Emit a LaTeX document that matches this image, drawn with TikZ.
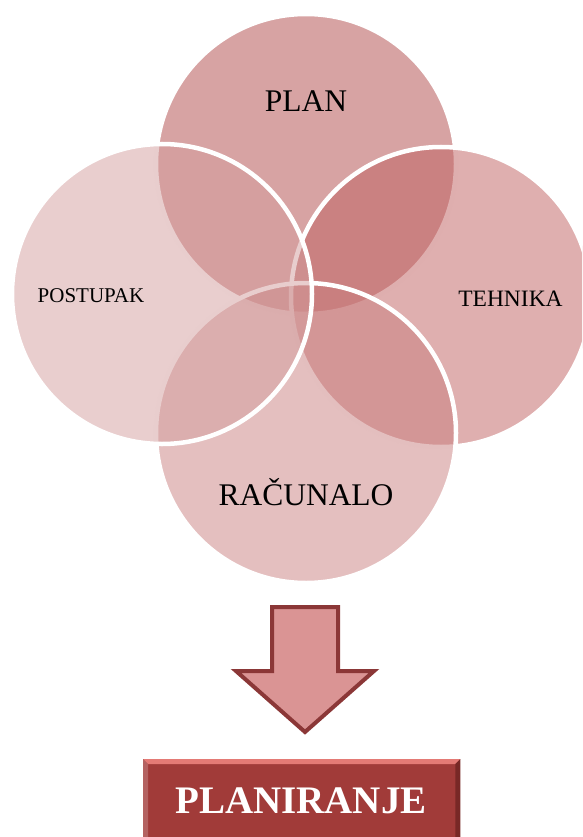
\documentclass[tikz,border=0pt]{standalone}
\usepackage{fontspec}
\setmainfont{Liberation Serif}
\definecolor{cPlan}{RGB}{175,71,71}
\definecolor{cTeh}{RGB}{191,95,95}
\definecolor{cRac}{RGB}{201,127,127}
\definecolor{cPos}{RGB}{211,157,157}
\definecolor{arrowfill}{RGB}{218,148,148}
\definecolor{arrowline}{RGB}{139,55,55}
\definecolor{boxred}{RGB}{161,59,57}
\definecolor{boxlight}{RGB}{228,122,117}
\definecolor{boxdark}{RGB}{120,40,38}
\begin{document}
\begin{tikzpicture}[x=1pt,y=-1pt,
  venn/.style={circle, minimum size=300pt, inner sep=0pt, draw=white, line width=4.5pt, fill opacity=0.5},
  lbl/.style={anchor=base, inner sep=0pt, text=black},
  bigtxt/.style={font=\fontsize{31.5}{36}\selectfont},
  arrowshape/.style={fill=arrowfill, draw=arrowline, line width=4pt, line join=miter}]
\useasboundingbox (0,0) rectangle (582,837);
\clip (0,0) rectangle (582,837);
% Venn circles
\node[venn, fill=cPlan] (plan) at (306,164) {};
\node[venn, fill=cTeh] (teh) at (441,297) {};
\node[venn, fill=cRac] (rac) at (306,433) {};
\node[venn, fill=cPos] (pos) at (162,294) {};
% labels
\node[lbl, bigtxt] (tplan) at (306,112) {PLAN};
\node[lbl, bigtxt] (trac) at (306,505) {RAČUNALO};
\node[lbl, font=\fontsize{21}{25}\selectfont] (tpos) at (91,302) {POSTUPAK};
\node[lbl, font=\fontsize{23.5}{27}\selectfont] (tteh) at (510.5,306) {TEHNIKA};
% arrow
\coordinate (a1) at (272,607);
\coordinate (a2) at (338,607);
\coordinate (a3) at (338,671);
\coordinate (a4) at (374,671);
\coordinate (a5) at (305,732);
\coordinate (a6) at (236,671);
\coordinate (a7) at (272,671);
\draw[arrowshape] (a1) -- (a2) -- (a3) -- (a4) -- (a5) -- (a6) -- (a7) -- cycle;
% result box
\node[rectangle, fill=boxred, minimum width=317pt, minimum height=90pt, inner sep=0pt, anchor=north west] (box) at (143,759) {};
\fill[boxlight] (box.north west) -- (box.north east) -- ([xshift=-5pt,yshift=-5pt]box.north east) -- ([xshift=5pt,yshift=-5pt]box.north west) -- cycle;
\fill[boxred!80!white] (box.north west) -- ([xshift=5pt,yshift=-5pt]box.north west) -- ([xshift=5pt]box.south west) -- (box.south west) -- cycle;
\fill[boxdark] (box.north east) -- ([xshift=-5pt,yshift=-5pt]box.north east) -- ([xshift=-5pt]box.south east) -- (box.south east) -- cycle;
\node[anchor=base, inner sep=0pt, text=white, font=\bfseries\fontsize{39}{44}\selectfont] (tres) at (301,813) {PLANIRANJE};
\end{tikzpicture}
\end{document}
